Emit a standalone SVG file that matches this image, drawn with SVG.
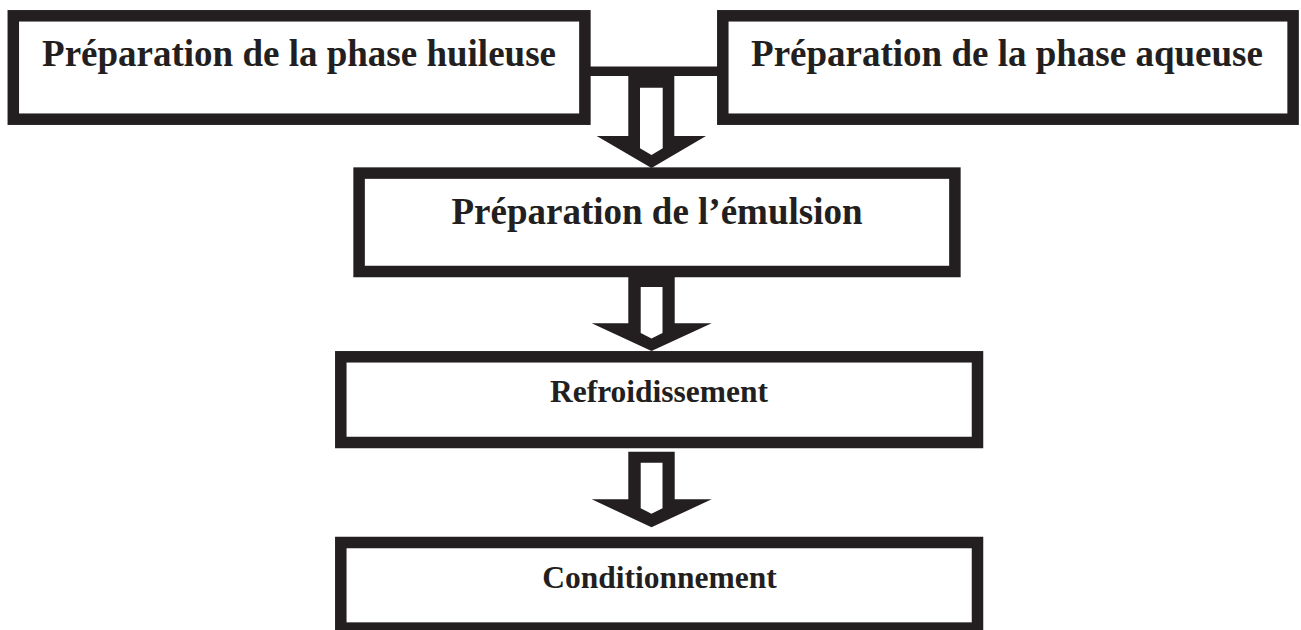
<svg xmlns="http://www.w3.org/2000/svg" width="1301" height="630" viewBox="0 0 1301 630">
  <style>
    .box { fill: #ffffff; stroke: #231f20; stroke-width: 11.5; }
    .lbl { font-family: "Liberation Serif", "Times New Roman", serif; font-weight: bold; fill: #231f20; text-anchor: middle; }
    .big { font-size: 37px; }
    .small { font-size: 31.5px; }
    .arrow-outer { fill: #231f20; }
    .arrow-inner { fill: #ffffff; }
    .link { stroke: #231f20; stroke-width: 9.5; fill: none; }
  </style>
  <rect width="1301" height="630" fill="#ffffff"/>

  <!-- connectors -->
  <g id="connectors">
    <line class="link" x1="585" y1="71.3" x2="723" y2="71.3"/>
    <g id="arrow-1">
      <polygon class="arrow-outer" points="628.3,71 674.3,71 674.3,136 706,136 651.5,168 596.7,136 628.3,136"/>
      <polygon class="arrow-inner" points="640,87.7 662.7,87.7 662.7,148.3 651.5,155 640,148.3"/>
    </g>
    <g id="arrow-2">
      <polygon class="arrow-outer" points="628.3,277 674.7,277 674.7,323.3 711.7,323.3 651.5,351 591.7,323.3 628.3,323.3"/>
      <polygon class="arrow-inner" points="640.7,287 662.5,287 662.5,333 651.5,338.5 640.7,333"/>
    </g>
    <g id="arrow-3">
      <polygon class="arrow-outer" points="628.3,451.7 674.7,451.7 674.7,499.3 711.7,499.3 651.5,527.3 591.7,499.3 628.3,499.3"/>
      <polygon class="arrow-inner" points="640.7,462.7 662.5,462.7 662.5,508.3 651.5,513.8 640.7,508.3"/>
    </g>
  </g>

  <!-- process steps -->
  <g id="phase-huileuse">
    <rect class="box" x="13.3" y="15.8" width="571.6" height="103.4"/>
    <text class="lbl big" x="299" y="66">Préparation de la phase huileuse</text>
  </g>
  <g id="phase-aqueuse">
    <rect class="box" x="722.8" y="15.8" width="570.3" height="103.4"/>
    <text class="lbl big" x="1007" y="66">Préparation de la phase aqueuse</text>
  </g>
  <g id="emulsion">
    <rect class="box" x="359.1" y="173.1" width="595.8" height="98.4"/>
    <text class="lbl big" x="657" y="224">Préparation de l’émulsion</text>
  </g>
  <g id="refroidissement">
    <rect class="box" x="340.8" y="356.8" width="636.7" height="85.7"/>
    <text class="lbl small" x="659" y="401.7">Refroidissement</text>
  </g>
  <g id="conditionnement">
    <rect class="box" x="340.8" y="542.5" width="636.7" height="85.6"/>
    <text class="lbl small" x="659.5" y="587.7">Conditionnement</text>
  </g>
</svg>
